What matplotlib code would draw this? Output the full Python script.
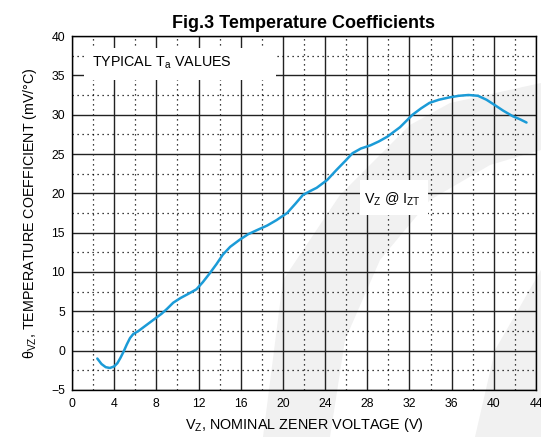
import matplotlib
matplotlib.use("Agg")
import matplotlib.pyplot as plt
from matplotlib.patches import Polygon, Rectangle
from matplotlib.ticker import MultipleLocator

plt.rcParams["font.family"] = ["Liberation Sans", "DejaVu Sans"]
plt.rcParams["mathtext.fontset"] = "custom"
plt.rcParams["mathtext.rm"] = "Liberation Sans"

# curve
VZ = [2.4, 2.8, 3.2, 3.6, 4.0, 4.3, 4.6, 4.9, 5.2, 5.5, 5.8, 6.3, 7.0, 7.8, 8.5,
      9.0, 9.6, 10.3, 11.0, 11.8, 12.4, 13.1, 13.7, 14.3, 15.0, 15.9, 16.7, 17.5,
      18.5, 19.4, 20.4, 21.2, 21.9, 22.6, 23.2, 24.2, 25.1, 25.9, 26.6, 27.4, 28.3,
      29.1, 29.9, 30.5, 31.1, 31.7, 32.3, 33.1, 33.9, 34.8, 35.8, 36.7, 37.6, 38.5,
      39.3, 40.0, 40.9, 41.8, 42.5, 43.1]
THETA = [-1.0, -1.7, -2.1, -2.2, -2.0, -1.6, -0.9, -0.1, 0.8, 1.6, 2.1, 2.5, 3.2,
         4.0, 4.7, 5.3, 6.1, 6.7, 7.2, 7.8, 8.7, 9.9, 11.0, 12.2, 13.2, 14.1, 14.8,
         15.3, 15.9, 16.6, 17.5, 18.7, 19.8, 20.3, 20.7, 21.7, 23.0, 24.1, 25.1,
         25.7, 26.1, 26.6, 27.2, 27.8, 28.4, 29.2, 30.0, 30.8, 31.5, 31.9, 32.2,
         32.4, 32.5, 32.4, 31.9, 31.3, 30.5, 29.8, 29.4, 29.0]

X_TICKS = list(range(0, 45, 4))
Y_TICKS = list(range(-5, 41, 5))

W, H = 541, 437
fig = plt.figure(figsize=(W / 100, H / 100), dpi=100)


def px(points):
    return [(x / W, 1 - y / H) for x, y in points]


# faint watermark behind the chart
wm_color = "#f1f1f1"
for shape in (
    [(263, 437), (283, 280), (340, 195), (410, 125), (450, 103), (541, 83),
     (541, 150), (490, 165), (430, 200), (380, 260), (345, 340), (330, 437)],
    [(475, 437), (495, 350), (541, 270), (541, 437)],
):
    fig.patches.append(Polygon(px(shape), closed=True, transform=fig.transFigure,
                               facecolor=wm_color, edgecolor="none", zorder=-5))

ax = fig.add_axes([72 / W, 1 - 390 / H, (536 - 72) / W, (390 - 36) / H])
ax.patch.set_alpha(0)

ax.plot(VZ, THETA, color="#1b9bd7", lw=1.8, solid_capstyle="round", zorder=5)

ax.set_xlim(0, 44)
ax.set_ylim(-5, 40)
ax.set_xticks(X_TICKS)
ax.set_yticks(Y_TICKS)
ax.xaxis.set_minor_locator(MultipleLocator(2))
ax.yaxis.set_minor_locator(MultipleLocator(2.5))
ax.grid(which="major", color="#222222", lw=1.0, ls="-")
ax.grid(which="minor", color="black", lw=0.9, ls=(0, (1, 3)))
ax.tick_params(which="both", length=0, labelsize=8.8)
ax.tick_params(axis="x", pad=6)
ax.tick_params(axis="y", pad=5)
for spine in ax.spines.values():
    spine.set_linewidth(1.0)

# white label boxes that blank out the grid
ax.add_patch(Rectangle((1.14, 34.4), 18.2, 4.1, facecolor="white", edgecolor="none", zorder=4))
ax.add_patch(Rectangle((27.3, 17.2), 6.45, 4.5, facecolor="white", edgecolor="none", zorder=4))
ax.text(1.9, 36.6, r"TYPICAL T$_\mathregular{a}$ VALUES", fontsize=10.3, va="center", ha="left",
        zorder=6)
ax.text(30.4, 19.3, r"V$_\mathregular{Z}$ @ I$_\mathregular{ZT}$", fontsize=10.3, va="center",
        ha="center", zorder=6)

ax.set_title("Fig.3 Temperature Coefficients", fontsize=13, fontweight="bold", pad=6)
ax.set_xlabel(r"V$_\mathregular{Z}$, NOMINAL ZENER VOLTAGE (V)", fontsize=10.4, labelpad=4)
ax.set_ylabel(r"θ$_\mathregular{VZ}$, TEMPERATURE COEFFICIENT (mV/°C)", fontsize=10.3, labelpad=9)

fig.savefig("out.png", dpi=100)
